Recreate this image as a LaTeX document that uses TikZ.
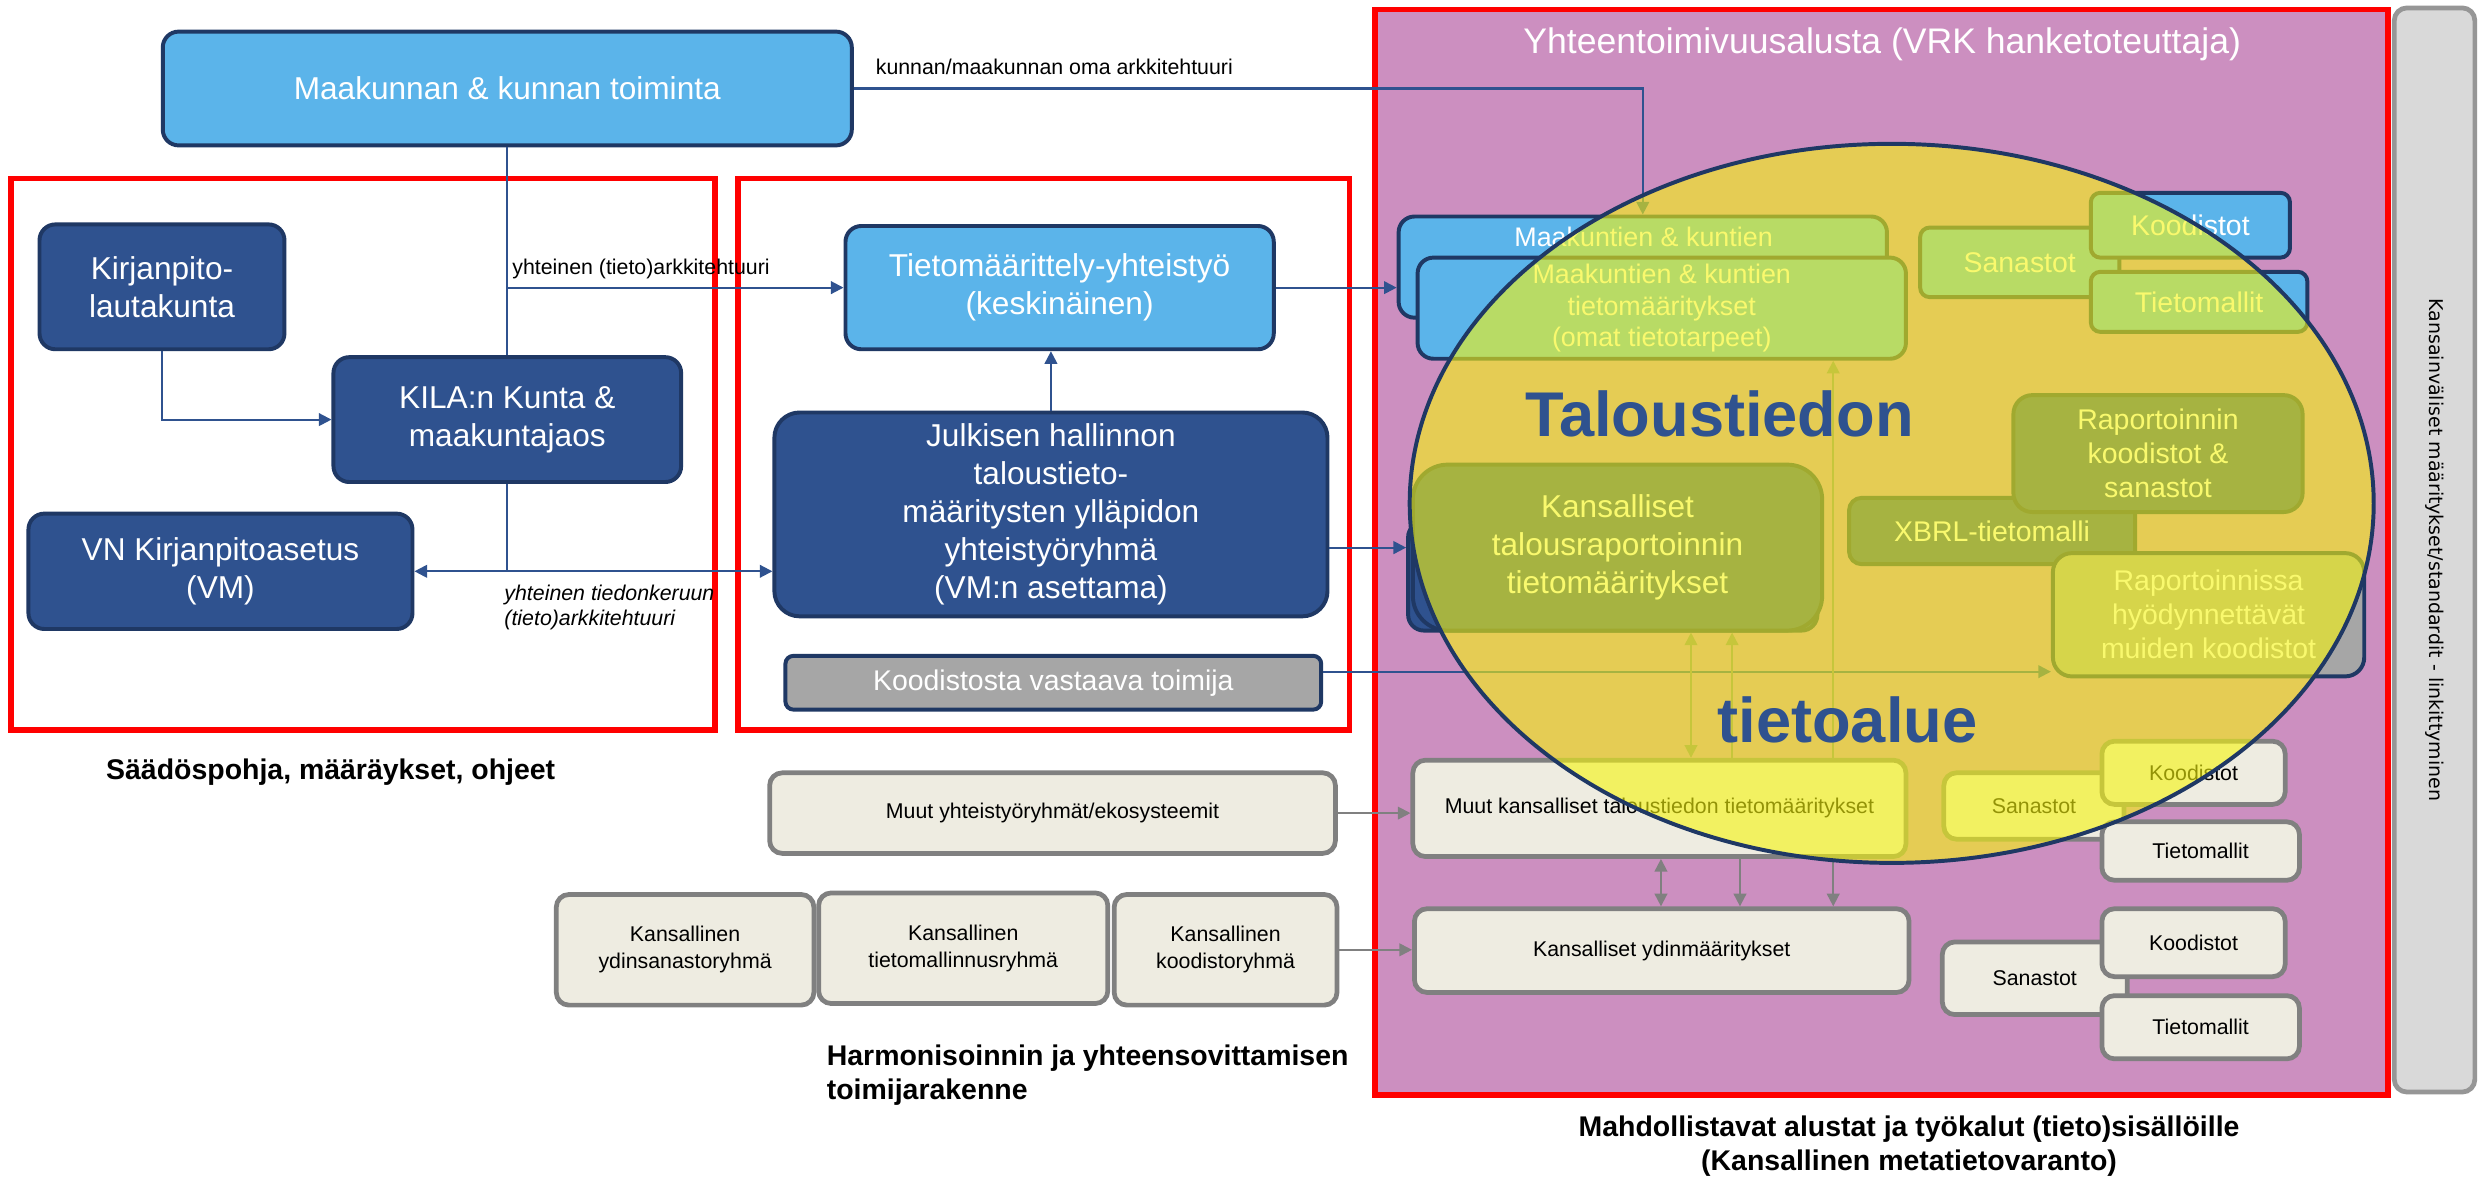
\documentclass[tikz,border=0pt]{standalone}
\usepackage{fontspec}
\setmainfont{Liberation Sans}
\newfontfamily\barfont{DejaVu Sans}
\usetikzlibrary{arrows.meta}
\definecolor{lightblue}{RGB}{91,180,234}
\definecolor{darkblue}{RGB}{47,82,143}
\definecolor{navyline}{RGB}{31,56,100}
\definecolor{purplebg}{RGB}{204,143,192}
\definecolor{beige}{RGB}{238,236,225}
\definecolor{greyline}{RGB}{128,128,128}
\definecolor{greyfill}{RGB}{166,166,166}
\definecolor{barfill}{RGB}{217,217,217}
\definecolor{barline}{RGB}{150,150,150}
\definecolor{overlay}{RGB}{246,245,13}
\begin{document}
\begin{tikzpicture}[x=1pt, y=-1pt, >={Triangle[length=8pt,width=8pt]},
    dblock/.style={rectangle, draw=navyline, line width=2.5pt, fill=darkblue, text=white, align=center, rounded corners=10pt, inner sep=0pt, font=\fontsize{20}{24}\selectfont},
    lblock/.style={dblock, fill=lightblue},
    gblock/.style={dblock, fill=greyfill},
    sblock/.style={lblock, rounded corners=6pt, font=\fontsize{18}{21.5}\selectfont},
    mblock/.style={rectangle, draw=greyline, line width=3pt, fill=beige, text=black, align=center, rounded corners=8pt, inner sep=0pt, font=\fontsize{13.5}{17}\selectfont},
    frame/.style={draw=red, line width=3.5pt},
    link/.style={draw=darkblue, line width=1.3pt},
    line/.style={link, ->},
    gline/.style={draw=greyline, line width=1.2pt, ->},
    note/.style={font=\fontsize{13.5}{16}\selectfont, inner sep=0pt},
    heading/.style={font=\bfseries\fontsize{18}{21.5}\selectfont, inner sep=0pt},
    bigword/.style={font=\bfseries\fontsize{40}{48}\selectfont, text=darkblue, inner sep=0pt}
  ]
    \useasboundingbox (0,0) rectangle (1568,745);
    \fill [white] (0,0) rectangle (1568,745);

    % frames
    \draw [frame] (7,113) rectangle (452.5,462);
    \draw [frame] (467,113) rectangle (854,462);
    \draw [frame, fill=purplebg] (870,6) rectangle (1511,693);
    \node [draw=barline, line width=3pt, fill=barfill, rounded corners=8pt, minimum width=686pt, minimum height=51pt, inner sep=0pt, rotate=-90, font=\barfont\fontsize{12}{14}\selectfont] (intl) at (1540.5,348) {Kansainväliset määritykset/standardit - linkittyminen};
    \node [font=\fontsize{22.5}{27}\selectfont, text=white] (alusta) at (1191,28) {Yhteentoimivuusalusta (VRK hanketoteuttaja)};

    % toimijat
    \node [lblock, minimum width=436pt, minimum height=72pt] (maak) at (321,56) {Maakunnan \& kunnan toiminta};
    \node [dblock, minimum width=155pt, minimum height=79pt] (kirja) at (102.5,181.5) {Kirjanpito-\\lautakunta};
    \node [dblock, minimum width=220pt, minimum height=79pt] (kila) at (321,265.5) {KILA:n Kunta \&\\maakuntajaos};
    \node [dblock, minimum width=243pt, minimum height=73pt] (vn) at (139.5,361.5) {VN Kirjanpitoasetus\\(VM)};
    \node [lblock, minimum width=271pt, minimum height=78pt] (tieto) at (670.5,182) {Tietomäärittely-yhteistyö\\(keskinäinen)};
    \node [dblock, minimum width=350pt, minimum height=129pt, rounded corners=16pt] (julk) at (665,325.5) {Julkisen hallinnon\\taloustieto-\\määritysten ylläpidon\\yhteistyöryhmä\\(VM:n asettama)};
    \node [gblock, minimum width=339pt, minimum height=34pt, rounded corners=5pt, font=\fontsize{18}{21.5}\selectfont] (kood) at (666.5,432) {Koodistosta vastaava toimija};

    \node [mblock, minimum width=358pt, minimum height=51pt] (muutyr) at (666,514.5) {Muut yhteistyöryhmät/ekosysteemit};
    \node [mblock, minimum width=163pt, minimum height=70pt] (ysana) at (433.5,601) {Kansallinen\\ydinsanastoryhmä};
    \node [mblock, minimum width=183pt, minimum height=70pt] (tmall) at (609.5,600) {Kansallinen\\tietomallinnusryhmä};
    \node [mblock, minimum width=141pt, minimum height=70pt] (kkood) at (775.5,601) {Kansallinen\\koodistoryhmä};

    % alusta
    \node [lblock, minimum width=309pt, minimum height=64pt] (mkback) at (1039.5,169) {};
    \node [font=\fontsize{17}{20}\selectfont, text=white, anchor=base, inner sep=0pt] (mkbtext) at (1040,156) {Maakuntien \& kuntien};
    \node [lblock, minimum width=309pt, minimum height=64pt, font=\fontsize{17}{20}\selectfont] (mkfront) at (1051.5,195) {Maakuntien \& kuntien\\tietomääritykset\\(omat tietotarpeet)};
    \node [sblock, minimum width=126pt, minimum height=44pt] (sana1) at (1278,166) {Sanastot};
    \node [sblock, minimum width=126pt, minimum height=41pt] (kood1) at (1386,142.5) {Koodistot};
    \node [sblock, minimum width=137pt, minimum height=38pt] (tmal1) at (1391.5,191) {Tietomallit};

    \node [dblock, minimum width=259pt, minimum height=69pt] (kback) at (1020.5,364.5) {};
    \node [dblock, minimum width=259pt, minimum height=105pt, rounded corners=22pt] (kfront) at (1023.5,346.5) {Kansalliset\\talousraportoinnin\\tietomääritykset};
    \node [dblock, minimum width=181pt, minimum height=42pt, rounded corners=8pt, font=\fontsize{18}{21.5}\selectfont] (xbrl) at (1260.5,336) {XBRL-tietomalli};
    \node [dblock, minimum width=183pt, minimum height=74pt, rounded corners=12pt, font=\fontsize{18}{21.5}\selectfont] (rapk) at (1365.5,287) {Raportoinnin\\koodistot \&\\sanastot};
    \node [gblock, minimum width=197pt, minimum height=78pt, rounded corners=12pt, font=\fontsize{18}{21.5}\selectfont] (rapm) at (1397.5,389) {Raportoinnissa\\hyödynnettävät\\muiden koodistot};

    \node [mblock, minimum width=312pt, minimum height=61pt] (muutk) at (1050,511.5) {Muut kansalliset taloustiedon tietomääritykset};
    \node [mblock, minimum width=313pt, minimum height=53pt] (ydin) at (1051.5,601.5) {Kansalliset ydinmääritykset};
    \node [mblock, minimum width=114pt, minimum height=42pt] (sana2) at (1287,510) {Sanastot};
    \node [mblock, minimum width=116pt, minimum height=40pt] (kood2) at (1388,489) {Koodistot};
    \node [mblock, minimum width=125pt, minimum height=37pt] (tmal2) at (1392.5,538.5) {Tietomallit};
    \node [mblock, minimum width=117pt, minimum height=46pt] (sana3) at (1287.5,619) {Sanastot};
    \node [mblock, minimum width=116pt, minimum height=43pt] (kood3) at (1388,596.5) {Koodistot};
    \node [mblock, minimum width=125pt, minimum height=40pt] (tmal3) at (1392.5,650) {Tietomallit};

    % labels
    \node [note, anchor=west] (oma) at (554,42.5) {kunnan/maakunnan oma arkkitehtuuri};
    \node [note, anchor=west] (yht) at (324,170) {yhteinen (tieto)arkkitehtuuri};
    \node [note, anchor=west, align=left, font=\itshape\fontsize{13.5}{16}\selectfont] (kerays) at (319,384.5) {yhteinen tiedonkeruun\\(tieto)arkkitehtuuri};
    \node [heading, anchor=base west] (saados) at (67,493) {Säädöspohja, määräykset, ohjeet};
    \node [heading, anchor=west, align=left] (harmon) at (523,680) {Harmonisoinnin ja yhteensovittamisen\\toimijarakenne};
    \node [heading, align=center] (alustat) at (1208,725) {Mahdollistavat alustat ja työkalut (tieto)sisällöille\\(Kansallinen metatietovaranto)};

    \coordinate (v1) at (1070,0);
    \coordinate (v2) at (1096,0);
    \coordinate (v3) at (1160,0);
    \coordinate (v4) at (1051,0);
    \coordinate (v5) at (1101,0);

    \path [link] (maak.south) -- (kila.north);
    \path [line] (maak.south |- tieto.west) -- (tieto.west);
    \path [line] (kirja.south) |- (kila.west);
    \path [link] (kila.south) -- (kila.south |- vn.east);
    \path [line, <->] (vn.east) -- (vn.east -| julk.west);
    \path [line] (julk.north) -- (julk.north |- tieto.south);
    \path [line] (maak.east) -| (mkback.north);
    \path [line] (tieto.east) -- (tieto.east -| mkback.west);
    \path [line] (julk.east |- kfront.center) -- (kback.west |- kfront.center);
    \path [line] ([yshift=7pt]kood.east) -- ([yshift=7pt]kood.east -| rapm.west);
    \path [gline] (muutyr.east) -- (muutyr.east -| muutk.west);
    \path [gline] (kkood.east) -- (kkood.east -| ydin.west);
    \path [gline, <->] (kfront.south -| v1) -- (muutk.north -| v1);
    \path [gline] (muutk.north -| v2) -- (kfront.south -| v2);
    \path [gline] (muutk.north -| v3) -- (mkfront.south -| v3);
    \path [gline, <->] (muutk.south -| v4) -- (ydin.north -| v4);
    \path [gline] (muutk.south -| v5) -- (ydin.north -| v5);
    \path [gline] (muutk.south -| v3) -- (ydin.north -| v3);

    % tietoalue
    \draw [draw=navyline, line width=2.5pt, fill=overlay, fill opacity=0.6] (1197,318.5) ellipse [x radius=305, y radius=227.5];
    \node [bigword, anchor=base] (talous) at (1088,276) {Taloustiedon};
    \node [bigword, anchor=base] (alue) at (1169,470) {tietoalue};
\end{tikzpicture}
\end{document}
